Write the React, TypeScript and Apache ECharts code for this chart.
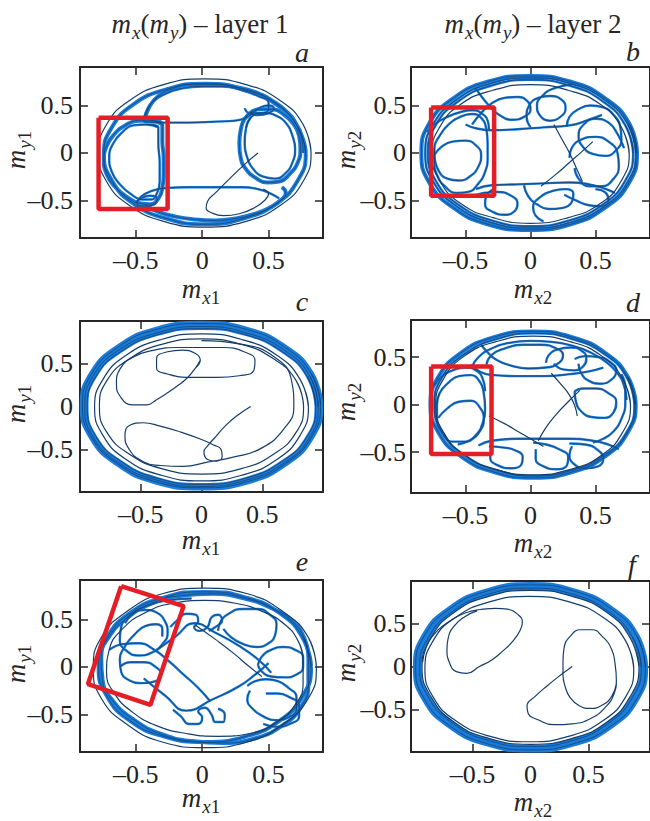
import React, { useEffect, useRef } from 'react';
import * as echarts from 'echarts';

type Pt = [number, number];

// ---------- tick values & labels ----------
const tickValues = [-0.5, 0, 0.5];
const panelLetters = ['a', 'b', 'c', 'd', 'e', 'f'];
const layerIdx = ['1', '2', '1', '2', '1', '2'];
const columnTitles = ['1', '2'];
const xRanges: Pt[] = [[-0.92, 0.91], [-0.92, 0.92], [-1, 1], [-0.92, 0.92], [-0.92, 0.91], [-1.03, 1.03]];
const yRanges: Pt[] = [[-0.895, 0.905], [-0.895, 0.905], [-1, 1], [-0.93, 0.89], [-0.895, 0.915], [-1, 1]];

// ---------- panel a ----------
const aOuter: Pt[] = [[0.82, 0], [0.76, 0.3], [0.59, 0.55], [0.33, 0.72], [0.02, 0.78], [-0.29, 0.72], [-0.55, 0.55], [-0.72, 0.3], [-0.78, 0], [-0.72, -0.3], [-0.55, -0.55], [-0.29, -0.72], [0.02, -0.78], [0.33, -0.72], [0.59, -0.55], [0.76, -0.3], [0.82, 0], [0.76, 0.3]];
const aRing: Pt[] = [[0.78, -0.01], [0.72, 0.27], [0.56, 0.51], [0.31, 0.67], [0.02, 0.73], [-0.27, 0.67], [-0.52, 0.51], [-0.68, 0.27], [-0.74, -0.01], [-0.68, -0.29], [-0.52, -0.53], [-0.27, -0.69], [0.02, -0.75], [0.31, -0.69], [0.56, -0.53], [0.72, -0.29], [0.78, -0.01], [0.72, 0.27]];
const aTopArc: Pt[] = [[-0.44, 0.34], [-0.42, 0.44], [-0.37, 0.54], [-0.28, 0.62], [-0.15, 0.68], [0, 0.7], [0.15, 0.7], [0.3, 0.66], [0.42, 0.6], [0.5, 0.53], [0.5, 0.46], [0.44, 0.42], [0.36, 0.42]];
const aTopArc2: Pt[] = [[0.76, 0], [0.75, 0.15], [0.71, 0.3], [0.64, 0.43], [0.54, 0.54], [0.42, 0.63], [0.27, 0.69], [0.1, 0.72], [-0.07, 0.72], [-0.22, 0.68], [-0.33, 0.6], [-0.4, 0.48], [-0.43, 0.36]];
const aLeftLobe: Pt[] = [[-0.3, 0.3], [-0.38, 0.34], [-0.48, 0.34], [-0.58, 0.29], [-0.66, 0.2], [-0.72, 0.07], [-0.74, -0.08], [-0.72, -0.22], [-0.66, -0.35], [-0.57, -0.46], [-0.47, -0.53], [-0.39, -0.54], [-0.33, -0.48], [-0.3, -0.37], [-0.29, -0.22], [-0.29, -0.05], [-0.3, 0.12], [-0.3, 0.3], [-0.38, 0.34]];
const aLeftLobe2: Pt[] = [[-0.33, 0.27], [-0.42, 0.3], [-0.52, 0.29], [-0.6, 0.22], [-0.67, 0.1], [-0.7, -0.05], [-0.68, -0.2], [-0.62, -0.33], [-0.54, -0.43], [-0.45, -0.49], [-0.38, -0.49], [-0.34, -0.42], [-0.32, -0.3], [-0.32, -0.1], [-0.33, 0.1], [-0.33, 0.27], [-0.42, 0.3]];
const aTopLine: Pt[] = [[-0.44, 0.33], [-0.3, 0.32], [-0.1, 0.32], [0.1, 0.33], [0.25, 0.34], [0.33, 0.37], [0.38, 0.42], [0.44, 0.48], [0.5, 0.5], [0.54, 0.47], [0.5, 0.42], [0.42, 0.4], [0.35, 0.42], [0.32, 0.47]];
const aBotLine: Pt[] = [[-0.5, -0.52], [-0.45, -0.47], [-0.39, -0.45], [-0.34, -0.48], [-0.36, -0.54], [-0.43, -0.56], [-0.49, -0.53], [-0.46, -0.46], [-0.38, -0.4], [-0.28, -0.37], [-0.1, -0.36], [0.1, -0.36], [0.3, -0.36], [0.42, -0.38], [0.52, -0.43], [0.58, -0.48]];
const aRightLobe: Pt[] = [[0.38, 0.44], [0.32, 0.36], [0.29, 0.24], [0.28, 0.1], [0.29, -0.05], [0.33, -0.17], [0.4, -0.26], [0.49, -0.31], [0.58, -0.3], [0.66, -0.22], [0.72, -0.1], [0.74, 0.04], [0.73, 0.18], [0.69, 0.3], [0.62, 0.4], [0.52, 0.46], [0.44, 0.46], [0.38, 0.44], [0.32, 0.36]];
const aRightLobe2: Pt[] = [[0.37, 0.38], [0.33, 0.26], [0.32, 0.1], [0.34, -0.05], [0.38, -0.16], [0.46, -0.25], [0.55, -0.27], [0.63, -0.21], [0.68, -0.1], [0.7, 0.04], [0.68, 0.18], [0.64, 0.3], [0.56, 0.39], [0.46, 0.42], [0.37, 0.38], [0.33, 0.26]];
const aStart: Pt[] = [[0.42, 0], [0.32, -0.12], [0.2, -0.28], [0.1, -0.42], [0.04, -0.51], [0.03, -0.58], [0.07, -0.63], [0.16, -0.66], [0.28, -0.64], [0.39, -0.58], [0.47, -0.5], [0.5, -0.43], [0.46, -0.38]];
const aBottomArc: Pt[] = [[-0.43, -0.55], [-0.33, -0.62], [-0.2, -0.67], [-0.05, -0.7], [0.1, -0.71], [0.25, -0.69], [0.4, -0.64], [0.52, -0.57], [0.6, -0.49], [0.63, -0.42], [0.6, -0.36]];
const aBox: Pt[] = [[-0.78, 0.37], [-0.26, 0.37], [-0.26, -0.59], [-0.78, -0.59], [-0.78, 0.37]];

// ---------- panel b ----------
const bRing1: Pt[] = [[0.82, 0], [0.76, 0.31], [0.58, 0.57], [0.31, 0.75], [-0.01, 0.81], [-0.33, 0.75], [-0.6, 0.57], [-0.78, 0.31], [-0.84, 0], [-0.78, -0.31], [-0.6, -0.57], [-0.33, -0.75], [-0.01, -0.81], [0.31, -0.75], [0.58, -0.57], [0.76, -0.31], [0.82, 0], [0.76, 0.31]];
const bRing2: Pt[] = [[0.79, 0], [0.73, 0.29], [0.56, 0.54], [0.3, 0.71], [0, 0.77], [-0.3, 0.71], [-0.56, 0.54], [-0.73, 0.29], [-0.79, 0], [-0.73, -0.29], [-0.56, -0.54], [-0.3, -0.71], [0, -0.77], [0.3, -0.71], [0.56, -0.54], [0.73, -0.29], [0.79, 0], [0.73, 0.29]];
const bRing3: Pt[] = [[0.76, -0.01], [0.7, 0.27], [0.54, 0.51], [0.29, 0.66], [0, 0.72], [-0.29, 0.66], [-0.54, 0.51], [-0.7, 0.27], [-0.76, -0.01], [-0.7, -0.29], [-0.54, -0.53], [-0.29, -0.68], [0, -0.74], [0.29, -0.68], [0.54, -0.53], [0.7, -0.29], [0.76, -0.01], [0.7, 0.27]];
const bRing4: Pt[] = [[0.81, 0], [0.75, 0.3], [0.57, 0.56], [0.31, 0.73], [0, 0.79], [-0.31, 0.73], [-0.57, 0.56], [-0.75, 0.3], [-0.81, 0], [-0.75, -0.3], [-0.57, -0.56], [-0.31, -0.73], [0, -0.79], [0.31, -0.73], [0.57, -0.56], [0.75, -0.3], [0.81, 0], [0.75, 0.3]];
const bLeft1: Pt[] = [[-0.74, -0.1], [-0.74, 0.05], [-0.7, 0.18], [-0.63, 0.3], [-0.54, 0.38], [-0.45, 0.41], [-0.38, 0.37], [-0.34, 0.25], [-0.33, 0.1], [-0.33, -0.05], [-0.35, -0.2], [-0.4, -0.32], [-0.48, -0.41], [-0.57, -0.42], [-0.66, -0.35], [-0.72, -0.23], [-0.74, -0.1], [-0.74, 0.05]];
const bLeft2: Pt[] = [[-0.74, -0.02], [-0.68, 0.07], [-0.6, 0.12], [-0.5, 0.13], [-0.42, 0.08], [-0.38, -0.02], [-0.4, -0.14], [-0.46, -0.24], [-0.55, -0.29], [-0.64, -0.27], [-0.71, -0.18], [-0.74, -0.02]];
const bLeft3: Pt[] = [[-0.8, 0.22], [-0.74, 0.3], [-0.64, 0.38], [-0.54, 0.43], [-0.45, 0.45], [-0.38, 0.42], [-0.33, 0.34], [-0.32, 0.25]];
const bTopLine: Pt[] = [[-0.5, 0.3], [-0.42, 0.26], [-0.3, 0.24], [-0.1, 0.25], [0.1, 0.27], [0.3, 0.29], [0.45, 0.35], [0.55, 0.4]];
const bUpLoop1: Pt[] = [[-0.45, 0.3], [-0.38, 0.42], [-0.3, 0.52], [-0.2, 0.58], [-0.1, 0.59], [-0.02, 0.54], [0, 0.46], [-0.05, 0.38], [-0.14, 0.35], [-0.24, 0.4], [-0.32, 0.5], [-0.38, 0.6], [-0.42, 0.68]];
const bUpLoop2: Pt[] = [[0, 0.27], [-0.03, 0.38], [-0.01, 0.5], [0.06, 0.58], [0.15, 0.6], [0.24, 0.56], [0.27, 0.47], [0.23, 0.38], [0.15, 0.34], [0.07, 0.4], [0.05, 0.5], [0.09, 0.6], [0.18, 0.68], [0.32, 0.72]];
const bRight1: Pt[] = [[0.28, 0.28], [0.3, 0.38], [0.37, 0.46], [0.46, 0.5], [0.56, 0.48], [0.64, 0.4], [0.69, 0.28], [0.7, 0.14], [0.66, 0.03], [0.58, -0.03], [0.48, -0.01], [0.4, 0.07], [0.37, 0.18], [0.41, 0.3], [0.5, 0.36], [0.6, 0.32], [0.67, 0.2], [0.72, 0.05]];
const bRight2: Pt[] = [[0.3, -0.05], [0.32, 0.06], [0.39, 0.14], [0.5, 0.17], [0.6, 0.12], [0.67, 0], [0.68, -0.14], [0.64, -0.27], [0.55, -0.35], [0.45, -0.35], [0.37, -0.27], [0.34, -0.16]];
const bBotLine: Pt[] = [[-0.42, -0.38], [-0.3, -0.34], [-0.1, -0.33], [0.1, -0.32], [0.3, -0.31], [0.45, -0.33], [0.56, -0.37], [0.65, -0.42]];
const bBotLoop1: Pt[] = [[-0.45, -0.46], [-0.36, -0.42], [-0.25, -0.41], [-0.15, -0.45], [-0.1, -0.53], [-0.12, -0.61], [-0.2, -0.65], [-0.29, -0.62], [-0.35, -0.54], [-0.34, -0.45], [-0.28, -0.38]];
const bBotLoop2: Pt[] = [[-0.05, -0.34], [-0.02, -0.45], [0.05, -0.54], [0.14, -0.59], [0.24, -0.58], [0.32, -0.51], [0.33, -0.43], [0.27, -0.38], [0.17, -0.4], [0.07, -0.47], [0.02, -0.57], [0.04, -0.66], [0.1, -0.72]];
const bBotLoop3: Pt[] = [[0.26, -0.44], [0.35, -0.5], [0.45, -0.55], [0.54, -0.56], [0.6, -0.5], [0.58, -0.42], [0.5, -0.38]];
const bDiag1: Pt[] = [[0.18, 0.3], [0.24, 0.15], [0.3, 0], [0.35, -0.15], [0.4, -0.3]];
const bDiag2: Pt[] = [[0.08, -0.35], [0.2, -0.22], [0.3, -0.1], [0.4, 0.02], [0.48, 0.12]];
const bBox: Pt[] = [[-0.765, 0.48], [-0.28, 0.48], [-0.28, -0.45], [-0.765, -0.45], [-0.765, 0.48]];

// ---------- panel c ----------
const cRing1: Pt[] = [[0.98, 0.01], [0.905, 0.38], [0.69, 0.69], [0.375, 0.9], [0, 0.97], [-0.375, 0.9], [-0.69, 0.69], [-0.905, 0.38], [-0.98, 0.01], [-0.905, -0.36], [-0.69, -0.67], [-0.375, -0.88], [0, -0.95], [0.375, -0.88], [0.69, -0.67], [0.905, -0.36], [0.98, 0.01], [0.905, 0.38]];
const cRing5: Pt[] = [[0.96, 0], [0.89, 0.36], [0.68, 0.66], [0.37, 0.86], [0, 0.935], [-0.37, 0.86], [-0.68, 0.66], [-0.89, 0.36], [-0.96, 0], [-0.89, -0.36], [-0.68, -0.66], [-0.37, -0.86], [0, -0.935], [0.37, -0.86], [0.68, -0.66], [0.89, -0.36], [0.96, 0], [0.89, 0.36]];
const cRing2: Pt[] = [[0.94, 0], [0.87, 0.35], [0.665, 0.64], [0.36, 0.84], [0, 0.91], [-0.36, 0.84], [-0.665, 0.64], [-0.87, 0.35], [-0.94, 0], [-0.87, -0.35], [-0.665, -0.64], [-0.36, -0.84], [0, -0.91], [0.36, -0.84], [0.665, -0.64], [0.87, -0.35], [0.94, 0], [0.87, 0.35]];
const cRing3: Pt[] = [[0.88, -0.01], [0.81, 0.32], [0.62, 0.6], [0.34, 0.78], [0, 0.85], [-0.34, 0.78], [-0.62, 0.6], [-0.81, 0.32], [-0.88, -0.01], [-0.81, -0.34], [-0.62, -0.62], [-0.34, -0.8], [0, -0.87], [0.34, -0.8], [0.62, -0.62], [0.81, -0.34], [0.88, -0.01], [0.81, 0.32]];
const cRing4: Pt[] = [[0.84, 0], [0.78, 0.3], [0.59, 0.56], [0.32, 0.73], [0, 0.79], [-0.32, 0.73], [-0.59, 0.56], [-0.78, 0.3], [-0.84, 0], [-0.78, -0.3], [-0.59, -0.56], [-0.32, -0.73], [0, -0.79], [0.32, -0.73], [0.59, -0.56], [0.78, -0.3], [0.84, 0], [0.78, 0.3]];
const cUpper: Pt[] = [[-0.01, 0.54], [-0.05, 0.45], [-0.12, 0.33], [-0.2, 0.24], [-0.28, 0.16], [-0.37, 0.08], [-0.45, 0.02], [-0.57, 0.02], [-0.67, 0.12], [-0.7, 0.27], [-0.67, 0.44], [-0.56, 0.58], [-0.39, 0.66], [-0.2, 0.69], [0, 0.69], [0.18, 0.69], [0.35, 0.64], [0.44, 0.54], [0.43, 0.42], [0.31, 0.36], [0.13, 0.34], [-0.09, 0.34], [-0.28, 0.38], [-0.37, 0.45], [-0.37, 0.56], [-0.28, 0.64], [-0.16, 0.66], [-0.05, 0.62], [-0.01, 0.54], [-0.05, 0.45]];
const cLower: Pt[] = [[0.405, 0], [0.3, -0.1], [0.2, -0.22], [0.1, -0.38], [0.05, -0.46], [0.02, -0.53], [0.05, -0.62], [0.12, -0.64], [0.17, -0.58], [0.16, -0.5], [0.1, -0.45], [-0.01, -0.38], [-0.17, -0.3], [-0.34, -0.23], [-0.48, -0.19], [-0.59, -0.22], [-0.63, -0.34], [-0.6, -0.49], [-0.5, -0.63], [-0.34, -0.69], [-0.15, -0.7], [0.05, -0.65], [0.27, -0.59], [0.49, -0.49], [0.68, -0.26], [0.76, 0], [0.74, 0.31], [0.6, 0.58], [0.32, 0.73], [0, 0.77]];

// ---------- panel d ----------
const dRing1: Pt[] = [[0.81, 0], [0.75, 0.29], [0.58, 0.54], [0.32, 0.71], [0.02, 0.77], [-0.28, 0.71], [-0.54, 0.54], [-0.71, 0.29], [-0.77, 0], [-0.71, -0.29], [-0.54, -0.54], [-0.28, -0.71], [0.02, -0.77], [0.32, -0.71], [0.58, -0.54], [0.75, -0.29], [0.81, 0], [0.75, 0.29]];
const dRing4: Pt[] = [[0.8, 0], [0.74, 0.29], [0.57, 0.53], [0.32, 0.69], [0.03, 0.75], [-0.26, 0.69], [-0.51, 0.53], [-0.68, 0.29], [-0.74, 0], [-0.68, -0.29], [-0.51, -0.53], [-0.26, -0.69], [0.03, -0.75], [0.32, -0.69], [0.57, -0.53], [0.74, -0.29], [0.8, 0], [0.74, 0.29]];
const dRing2: Pt[] = [[0.77, -0.01], [0.71, 0.27], [0.55, 0.51], [0.31, 0.66], [0.02, 0.72], [-0.27, 0.66], [-0.51, 0.51], [-0.67, 0.27], [-0.73, -0.01], [-0.67, -0.29], [-0.51, -0.53], [-0.27, -0.68], [0.02, -0.74], [0.31, -0.68], [0.55, -0.53], [0.71, -0.29], [0.77, -0.01], [0.71, 0.27]];
const dRing3: Pt[] = [[0.74, 0.05], [0.72, 0.2], [0.67, 0.33], [0.58, 0.45], [0.46, 0.55], [0.32, 0.62], [0.16, 0.66], [0, 0.67], [-0.16, 0.65], [-0.3, 0.59], [-0.4, 0.5], [-0.45, 0.4]];
const dLeft1: Pt[] = [[-0.72, 0], [-0.7, 0.12], [-0.64, 0.22], [-0.55, 0.3], [-0.46, 0.31], [-0.39, 0.24], [-0.36, 0.12], [-0.35, -0.04], [-0.37, -0.2], [-0.42, -0.32], [-0.5, -0.39], [-0.6, -0.39], [-0.68, -0.3], [-0.72, -0.15], [-0.72, 0], [-0.7, 0.12]];
const dLeft2: Pt[] = [[-0.71, -0.14], [-0.64, -0.04], [-0.55, 0.03], [-0.46, 0.04], [-0.39, -0.03], [-0.36, -0.15], [-0.39, -0.28], [-0.46, -0.37], [-0.56, -0.42]];
const dLeft3: Pt[] = [[-0.74, 0.2], [-0.68, 0.3], [-0.6, 0.36], [-0.5, 0.39], [-0.42, 0.36], [-0.37, 0.28], [-0.35, 0.14]];
const dTopLine: Pt[] = [[-0.46, 0.42], [-0.38, 0.34], [-0.28, 0.31], [-0.1, 0.3], [0.1, 0.3], [0.3, 0.32], [0.45, 0.35], [0.56, 0.39]];
const dTopLoop: Pt[] = [[-0.34, 0.42], [-0.3, 0.52], [-0.2, 0.59], [-0.06, 0.63], [0.08, 0.63], [0.2, 0.59], [0.25, 0.52], [0.22, 0.44], [0.12, 0.39], [-0.02, 0.38], [-0.15, 0.41], [-0.26, 0.47], [-0.33, 0.55], [-0.38, 0.63]];
const dUpRight: Pt[] = [[0.12, 0.44], [0.14, 0.52], [0.21, 0.58], [0.31, 0.6], [0.39, 0.57], [0.43, 0.49], [0.41, 0.41], [0.34, 0.36], [0.25, 0.37], [0.18, 0.43]];
const dRight1: Pt[] = [[0.34, 0.48], [0.42, 0.51], [0.52, 0.5], [0.61, 0.45], [0.66, 0.36], [0.63, 0.27], [0.54, 0.22], [0.45, 0.25], [0.39, 0.33], [0.37, 0.43]];
const dRight2: Pt[] = [[0.34, 0.14], [0.4, 0.17], [0.5, 0.17], [0.6, 0.12], [0.66, 0.03], [0.64, -0.08], [0.57, -0.14], [0.47, -0.13], [0.39, -0.07], [0.35, 0.03], [0.34, 0.14]];
const dRight3: Pt[] = [[0.7, 0.32], [0.73, 0.18], [0.73, 0.02], [0.7, -0.15], [0.64, -0.28], [0.56, -0.36], [0.48, -0.4]];
const dBotLine: Pt[] = [[-0.4, -0.43], [-0.3, -0.38], [-0.1, -0.36], [0.1, -0.36], [0.3, -0.36], [0.48, -0.38], [0.6, -0.42], [0.68, -0.47]];
const dBot1: Pt[] = [[-0.32, -0.44], [-0.22, -0.45], [-0.12, -0.48], [-0.06, -0.55], [-0.07, -0.63], [-0.15, -0.67], [-0.25, -0.64], [-0.31, -0.56], [-0.3, -0.47]];
const dBot2: Pt[] = [[0.02, -0.4], [0.12, -0.42], [0.22, -0.47], [0.29, -0.55], [0.28, -0.64], [0.2, -0.68], [0.1, -0.65], [0.04, -0.57], [0.04, -0.47]];
const dBot3: Pt[] = [[0.3, -0.41], [0.42, -0.42], [0.52, -0.48], [0.56, -0.57], [0.52, -0.65], [0.42, -0.67], [0.33, -0.62], [0.3, -0.53], [0.32, -0.44]];
const dDiag1: Pt[] = [[-0.32, -0.12], [-0.2, -0.2], [-0.1, -0.28], [0, -0.36], [0.1, -0.44]];
const dDiag2: Pt[] = [[0.16, 0.33], [0.23, 0.22], [0.3, 0.1], [0.34, -0.01], [0.36, -0.12]];
const dDiag3: Pt[] = [[0.38, 0.15], [0.29, 0.03], [0.2, -0.1], [0.12, -0.24], [0.06, -0.38]];
const dBox: Pt[] = [[-0.765, 0.4], [-0.3, 0.4], [-0.3, -0.52], [-0.765, -0.52], [-0.765, 0.4]];

// ---------- panel e ----------
const eRing1: Pt[] = [[0.86, -0.01], [0.8, 0.31], [0.61, 0.58], [0.34, 0.77], [0.02, 0.83], [-0.3, 0.77], [-0.57, 0.58], [-0.76, 0.31], [-0.82, -0.01], [-0.76, -0.33], [-0.57, -0.6], [-0.3, -0.79], [0.02, -0.85], [0.34, -0.79], [0.61, -0.6], [0.8, -0.33], [0.86, -0.01], [0.8, 0.31]];
const eRing2: Pt[] = [[0.82, 0], [0.76, 0.3], [0.59, 0.56], [0.33, 0.73], [0.02, 0.79], [-0.29, 0.73], [-0.55, 0.56], [-0.72, 0.3], [-0.78, 0], [-0.72, -0.3], [-0.55, -0.56], [-0.29, -0.73], [0.02, -0.79], [0.33, -0.73], [0.59, -0.56], [0.76, -0.3], [0.82, 0], [0.76, 0.3]];
const eRing3: Pt[] = [[0.8, 0.1], [0.77, 0.3], [0.68, 0.48], [0.52, 0.62], [0.32, 0.72], [0.08, 0.77], [-0.16, 0.75], [-0.38, 0.67], [-0.56, 0.52], [-0.7, 0.32], [-0.76, 0.1], [-0.75, -0.14], [-0.67, -0.36], [-0.52, -0.55], [-0.32, -0.7], [-0.08, -0.78], [0.16, -0.8], [0.4, -0.75], [0.6, -0.62], [0.74, -0.43], [0.8, -0.18], [0.8, 0.1], [0.77, 0.3]];
const eRing4: Pt[] = [[0.76, 0.08], [0.72, 0.28], [0.62, 0.45], [0.46, 0.58], [0.25, 0.67], [0.02, 0.7], [-0.22, 0.67], [-0.43, 0.57], [-0.6, 0.4], [-0.7, 0.18], [-0.72, -0.06], [-0.66, -0.28], [-0.53, -0.47], [-0.34, -0.62], [-0.12, -0.7], [0.12, -0.73], [0.36, -0.7], [0.56, -0.58], [0.7, -0.4], [0.76, -0.17], [0.76, 0.08], [0.72, 0.28]];
const eUL1: Pt[] = [[-0.58, 0.46], [-0.52, 0.56], [-0.43, 0.6], [-0.34, 0.57], [-0.28, 0.48], [-0.26, 0.36], [-0.3, 0.24], [-0.38, 0.15], [-0.48, 0.12], [-0.57, 0.17], [-0.62, 0.28], [-0.61, 0.42], [-0.54, 0.55], [-0.42, 0.64], [-0.26, 0.7], [-0.08, 0.72]];
const eUL2: Pt[] = [[-0.62, 0], [-0.54, 0.05], [-0.44, 0.05], [-0.35, 0], [-0.31, -0.08], [-0.35, -0.15], [-0.45, -0.17], [-0.55, -0.14], [-0.61, -0.05], [-0.62, 0.08], [-0.58, 0.22], [-0.51, 0.34], [-0.43, 0.43], [-0.35, 0.45], [-0.3, 0.4], [-0.3, 0.32]];
const eUL3: Pt[] = [[-0.7, 0.18], [-0.6, 0.24], [-0.48, 0.25], [-0.36, 0.18], [-0.25, 0.06], [-0.14, -0.08], [-0.03, -0.22], [0.06, -0.36]];
const eTopKnots: Pt[] = [[-0.24, 0.42], [-0.18, 0.5], [-0.12, 0.56], [-0.05, 0.55], [-0.03, 0.48], [-0.06, 0.42], [-0.02, 0.38], [0.04, 0.42], [0.07, 0.52], [0.12, 0.55], [0.15, 0.49], [0.1, 0.42], [0.05, 0.38]];
const eUR: Pt[] = [[0.12, 0.38], [0.14, 0.48], [0.2, 0.56], [0.3, 0.61], [0.42, 0.61], [0.51, 0.55], [0.56, 0.45], [0.55, 0.34], [0.5, 0.25], [0.41, 0.21], [0.31, 0.24], [0.22, 0.31], [0.16, 0.4]];
const eRMid: Pt[] = [[0.42, 0.02], [0.45, 0.11], [0.52, 0.18], [0.61, 0.21], [0.7, 0.18], [0.76, 0.1], [0.76, 0], [0.71, -0.08], [0.62, -0.11], [0.52, -0.1], [0.45, -0.05], [0.42, 0.02]];
const eLR1: Pt[] = [[0.34, -0.2], [0.4, -0.15], [0.48, -0.13], [0.57, -0.15], [0.65, -0.22], [0.71, -0.32], [0.71, -0.44], [0.65, -0.53], [0.55, -0.56], [0.46, -0.52], [0.38, -0.44], [0.34, -0.34], [0.36, -0.25]];
const eLR2: Pt[] = [[0.48, -0.28], [0.57, -0.28], [0.66, -0.32], [0.73, -0.4], [0.73, -0.52], [0.66, -0.6], [0.56, -0.63], [0.46, -0.6]];
const eBotKnots: Pt[] = [[-0.22, -0.45], [-0.16, -0.52], [-0.1, -0.6], [-0.03, -0.6], [0, -0.53], [-0.03, -0.47], [0.02, -0.43], [0.07, -0.5], [0.1, -0.58], [0.16, -0.58], [0.17, -0.5], [0.12, -0.44]];
const eDiamond1: Pt[] = [[-0.34, 0.18], [-0.2, 0.32], [-0.06, 0.46], [0.1, 0.36], [0.28, 0.22], [0.42, 0.08], [0.52, -0.06]];
const eDiamond2: Pt[] = [[-0.44, -0.12], [-0.28, -0.3], [-0.12, -0.46], [0.08, -0.34], [0.27, -0.21], [0.4, -0.08], [0.5, 0.04]];
const eDiag: Pt[] = [[-0.05, 0.44], [0.1, 0.29], [0.24, 0.14], [0.34, 0.02], [0.45, -0.1]];
const eBox: Pt[] = [[-0.61, 0.85], [-0.14, 0.64], [-0.39, -0.4], [-0.86, -0.18], [-0.61, 0.85]];

// ---------- panel f ----------
const fRing1: Pt[] = [[0.99, -0.01], [0.915, 0.36], [0.7, 0.67], [0.38, 0.88], [0, 0.955], [-0.38, 0.88], [-0.7, 0.67], [-0.915, 0.36], [-0.99, -0.01], [-0.915, -0.38], [-0.7, -0.69], [-0.38, -0.9], [0, -0.975], [0.38, -0.9], [0.7, -0.69], [0.915, -0.38], [0.99, -0.01], [0.915, 0.36]];
const fRing2: Pt[] = [[0.955, -0.01], [0.88, 0.34], [0.675, 0.64], [0.365, 0.845], [0, 0.915], [-0.365, 0.845], [-0.675, 0.64], [-0.88, 0.34], [-0.955, -0.01], [-0.88, -0.36], [-0.675, -0.66], [-0.365, -0.865], [0, -0.935], [0.365, -0.865], [0.675, -0.66], [0.88, -0.36], [0.955, -0.01], [0.88, 0.34]];
const fRing3: Pt[] = [[0.935, -0.01], [0.86, 0.33], [0.66, 0.63], [0.36, 0.82], [0, 0.89], [-0.36, 0.82], [-0.66, 0.63], [-0.86, 0.33], [-0.935, -0.01], [-0.86, -0.35], [-0.66, -0.65], [-0.36, -0.84], [0, -0.91], [0.36, -0.84], [0.66, -0.65], [0.86, -0.35], [0.935, -0.01], [0.86, 0.33]];
const fInner: Pt[] = [[0.89, -0.03], [0.82, 0.3], [0.63, 0.57], [0.335, 0.755], [-0.01, 0.82], [-0.355, 0.755], [-0.65, 0.57], [-0.84, 0.3], [-0.91, -0.03], [-0.84, -0.355], [-0.65, -0.63], [-0.355, -0.815], [-0.01, -0.88], [0.335, -0.815], [0.63, -0.63], [0.82, -0.355], [0.89, -0.03], [0.82, 0.3]];
const fLoopL: Pt[] = [[-0.93, 0.05], [-0.9, 0.22], [-0.83, 0.38], [-0.73, 0.5], [-0.61, 0.6], [-0.5, 0.65], [-0.41, 0.67], [-0.3, 0.68], [-0.2, 0.67], [-0.11, 0.61], [-0.07, 0.52], [-0.09, 0.42], [-0.15, 0.3], [-0.24, 0.18], [-0.33, 0.08], [-0.44, 0], [-0.55, -0.08], [-0.64, -0.06], [-0.7, 0.05], [-0.72, 0.2], [-0.71, 0.33], [-0.66, 0.47], [-0.57, 0.58], [-0.46, 0.65]];
const fLoopR: Pt[] = [[0.36, 0], [0.26, -0.1], [0.14, -0.23], [0.04, -0.35], [-0.03, -0.46], [-0.02, -0.55], [0.06, -0.62], [0.2, -0.68], [0.36, -0.67], [0.53, -0.6], [0.65, -0.47], [0.72, -0.32], [0.74, -0.16], [0.73, 0.02], [0.7, 0.2], [0.62, 0.35], [0.53, 0.43], [0.43, 0.43], [0.34, 0.35], [0.29, 0.22], [0.28, 0.06], [0.28, -0.09], [0.3, -0.24], [0.34, -0.36], [0.42, -0.46], [0.52, -0.49], [0.62, -0.45], [0.7, -0.35], [0.74, -0.2]];

// ---------- styling / layout ----------
const BLUE = '#1a7bd8';
const DARK = '#163e6c';
const RED = '#e41e26';
const INK = '#262626';
const SERIF = 'Liberation Serif';

type Kind = 'W' | 'T' | 'B' | 'D';
const panels: { curves: [Pt[], Kind][]; box?: Pt[] }[] = [
  {
    curves: [[aRing, 'T'], [aTopArc2, 'T'], [aLeftLobe, 'T'], [aRightLobe, 'T'], [aBottomArc, 'T'], [aOuter, 'D'], [aTopArc, 'B'], [aLeftLobe2, 'B'], [aRightLobe2, 'B'], [aTopLine, 'B'], [aBotLine, 'B'], [aStart, 'D']],
    box: aBox,
  },
  {
    curves: [[bRing1, 'T'], [bRing4, 'B'], [bRing2, 'B'], [bRing3, 'D'], [bLeft1, 'B'], [bLeft2, 'B'], [bLeft3, 'B'], [bTopLine, 'B'], [bUpLoop1, 'B'], [bUpLoop2, 'B'], [bRight1, 'B'], [bRight2, 'B'], [bBotLine, 'B'], [bBotLoop1, 'B'], [bBotLoop2, 'B'], [bBotLoop3, 'B'], [bDiag1, 'D'], [bDiag2, 'D']],
    box: bBox,
  },
  {
    curves: [[cRing1, 'W'], [cRing5, 'T'], [cRing2, 'B'], [cRing3, 'D'], [cRing4, 'D'], [cUpper, 'D'], [cLower, 'D']],
  },
  {
    curves: [[dRing1, 'T'], [dRing4, 'B'], [dRing2, 'D'], [dRing3, 'B'], [dLeft1, 'B'], [dLeft2, 'B'], [dLeft3, 'B'], [dTopLine, 'B'], [dTopLoop, 'B'], [dUpRight, 'B'], [dRight1, 'B'], [dRight2, 'B'], [dRight3, 'B'], [dBotLine, 'B'], [dBot1, 'B'], [dBot2, 'B'], [dBot3, 'B'], [dDiag1, 'D'], [dDiag2, 'D'], [dDiag3, 'D']],
    box: dBox,
  },
  {
    curves: [[eRing2, 'T'], [eRing3, 'T'], [eRing1, 'D'], [eRing4, 'D'], [eUL1, 'B'], [eUL2, 'B'], [eUL3, 'B'], [eTopKnots, 'B'], [eUR, 'B'], [eRMid, 'B'], [eLR1, 'B'], [eLR2, 'B'], [eBotKnots, 'B'], [eDiamond1, 'B'], [eDiamond2, 'B'], [eDiag, 'D']],
    box: eBox,
  },
  {
    curves: [[fRing1, 'W'], [fRing2, 'T'], [fRing3, 'D'], [fInner, 'D'], [fLoopL, 'D'], [fLoopR, 'D']],
  },
];

const grids = [
  { left: 80, top: 67, width: 243, height: 171 },
  { left: 411, top: 67, width: 243, height: 171 },
  { left: 80, top: 321, width: 243, height: 171 },
  { left: 411, top: 320, width: 243, height: 173 },
  { left: 80, top: 580, width: 243, height: 172 },
  { left: 411, top: 581, width: 243, height: 171 },
];
const letterPos = [[302, 52], [633, 51], [302, 301], [633, 302], [302, 561], [632, 564]];
const xNamePos = [[201, 289], [533, 289], [201, 540], [533, 543], [201, 798], [533, 802]];
const yNamePos = [[16, 150], [346, 150], [16, 404], [346, 402], [16, 664], [346, 663]];
const titlePos = [[200, 24], [533, 24]];
const yLabelGap = [7, 5, 7, 5, 7, 5];

const fmt = (v: number) => (v === 0 ? '0' : v < 0 ? '\u2013' + String(Math.abs(v)) : String(v));

// advance widths (em) of Times-metric glyphs, for laying out subscript pieces
const REG: Record<string, number> = { '0': 0.5, '1': 0.5, '2': 0.5, '5': 0.5, '.': 0.25, '\u2013': 0.5, '(': 0.333, ')': 0.333, ' ': 0.25, l: 0.278, a: 0.444, y: 0.5, e: 0.444, r: 0.333 };
const ITA: Record<string, number> = { m: 0.722, x: 0.444, y: 0.444 };
type Piece = { t: string; it?: boolean; sub?: boolean };
const MAIN = 27;
const SUB = 19;
const SUB_DY = 8;

function mathText(pieces: Piece[]) {
  let x = 0;
  const els: any[] = [];
  pieces.forEach((p) => {
    const fs = p.sub ? SUB : MAIN;
    els.push({
      type: 'text',
      x,
      y: p.sub ? SUB_DY : 0,
      style: { text: p.t, fontFamily: SERIF, fontSize: fs, fontStyle: p.it ? 'italic' : 'normal', fill: INK, align: 'left', verticalAlign: 'middle' },
    });
    for (const ch of p.t) x += ((p.it ? ITA[ch] : REG[ch]) ?? 0.5) * fs;
    if (p.it && !p.sub) x += 1;
  });
  els.forEach((e) => (e.x -= x / 2));
  return els;
}

export default function App() {
  const ref = useRef<HTMLDivElement>(null);
  useEffect(() => {
    if (!ref.current) return;
    const chart = echarts.init(ref.current, undefined, { renderer: 'svg' });

    const axisLine = { show: true, onZero: false, lineStyle: { color: INK, width: 2 } };
    const tick = { show: true, inside: true, length: 8, customValues: tickValues, lineStyle: { color: INK, width: 1.5 } };

    const xAxis: any[] = [];
    const yAxis: any[] = [];
    grids.forEach((_, i) => {
      xAxis.push({ gridIndex: i, type: 'value', min: xRanges[i][0], max: xRanges[i][1], position: 'bottom', axisLine, axisTick: tick, axisLabel: { show: false }, splitLine: { show: false } });
      yAxis.push({ gridIndex: i, type: 'value', min: yRanges[i][0], max: yRanges[i][1], position: 'left', axisLine, axisTick: tick, axisLabel: { show: false }, splitLine: { show: false } });
    });
    grids.forEach((_, i) => {
      xAxis.push({ gridIndex: i, type: 'value', min: xRanges[i][0], max: xRanges[i][1], position: 'top', axisLine, axisTick: tick, axisLabel: { show: false }, splitLine: { show: false } });
      yAxis.push({ gridIndex: i, type: 'value', min: yRanges[i][0], max: yRanges[i][1], position: 'right', axisLine, axisTick: tick, axisLabel: { show: false }, splitLine: { show: false } });
    });

    const series: any[] = [];
    const addLine = (i: number, data: Pt[], color: string, width: number, smooth: number | boolean, z: number) => {
      series.push({ type: 'line', xAxisIndex: i, yAxisIndex: i, data, smooth, symbol: 'none', silent: true, z, lineStyle: { color, width }, clip: true });
    };
    panels.forEach((p, i) => {
      p.curves.forEach(([d, k]) => {
        if (k === 'W') {
          addLine(i, d, BLUE, 5.5, 0.5, 2);
          addLine(i, d, DARK, 0.7, 0.5, 3);
        } else if (k === 'T') {
          addLine(i, d, BLUE, 4, 0.5, 2);
          addLine(i, d, DARK, 0.7, 0.5, 3);
        } else if (k === 'B') {
          addLine(i, d, BLUE, 2.4, 0.5, 2);
          addLine(i, d, DARK, 0.8, 0.5, 3);
        } else {
          addLine(i, d, DARK, 1.2, 0.5, 3);
        }
      });
      if (p.box) addLine(i, p.box, RED, 4.5, false, 5);
    });

    chart.setOption({ animation: false, backgroundColor: '#ffffff', grid: grids, xAxis, yAxis, series });

    const graphic: any[] = [];
    // tick labels, placed through the axes' own scales
    grids.forEach((_, i) => {
      const bottom = chart.convertToPixel({ yAxisIndex: i }, yRanges[i][0]) as number;
      const left = chart.convertToPixel({ xAxisIndex: i }, xRanges[i][0]) as number;
      tickValues.forEach((v) => {
        const px = chart.convertToPixel({ xAxisIndex: i }, v) as number;
        const py = chart.convertToPixel({ yAxisIndex: i }, v) as number;
        graphic.push({ type: 'text', x: px, y: bottom + 22, style: { text: fmt(v), fontFamily: SERIF, fontSize: 26, fill: '#222', align: 'center', verticalAlign: 'middle' } });
        graphic.push({ type: 'text', x: left - yLabelGap[i], y: py, style: { text: fmt(v), fontFamily: SERIF, fontSize: 26, fill: '#222', align: 'right', verticalAlign: 'middle' } });
      });
    });
    titlePos.forEach(([x, y], j) => {
      graphic.push({
        type: 'group', x, y,
        children: mathText([{ t: 'm', it: true }, { t: 'x', it: true, sub: true }, { t: '(' }, { t: 'm', it: true }, { t: 'y', it: true, sub: true }, { t: ') \u2013 layer ' + columnTitles[j] }]),
      });
    });
    panelLetters.forEach((l, i) => {
      graphic.push({ type: 'text', x: letterPos[i][0], y: letterPos[i][1], style: { text: l, fontFamily: SERIF, fontStyle: 'italic', fontSize: 28, fill: INK, align: 'center', verticalAlign: 'middle' } });
      graphic.push({ type: 'group', x: xNamePos[i][0], y: xNamePos[i][1], children: mathText([{ t: 'm', it: true }, { t: 'x', it: true, sub: true }, { t: layerIdx[i], sub: true }]) });
      graphic.push({ type: 'group', x: yNamePos[i][0], y: yNamePos[i][1], rotation: Math.PI / 2, children: mathText([{ t: 'm', it: true }, { t: 'y', it: true, sub: true }, { t: layerIdx[i], sub: true }]) });
    });
    chart.setOption({ graphic });

    return () => chart.dispose();
  }, []);
  return <div ref={ref} style={{ position: 'absolute', left: 0, top: 0, width: 650, height: 821 }} />;
}
